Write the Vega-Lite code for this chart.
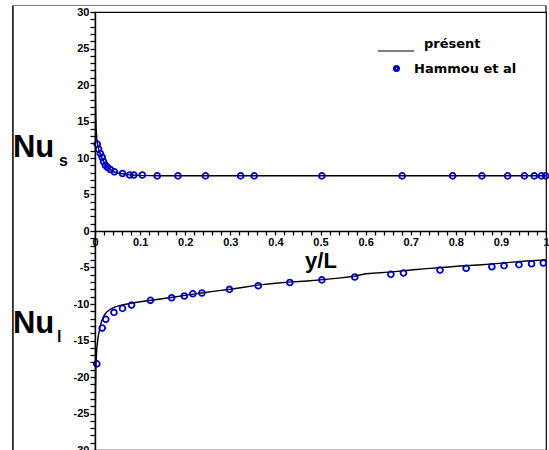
{
  "$schema": "https://vega.github.io/schema/vega-lite/v6.json",
  "width": 451,
  "height": 438,
  "autosize": {"type": "none"},
  "padding": {"left": 95, "top": 12, "right": 3, "bottom": 0},
  "background": "white",
  "config": {
    "view": {"stroke": "black", "strokeWidth": 1.2},
    "axis": {"grid": false}
  },
  "data": {
    "values": [
      {"p": "s", "k": "line", "x": 0, "v": 30},
      {"p": "s", "k": "line", "x": 0.0007, "v": 22},
      {"p": "s", "k": "line", "x": 0.0015, "v": 17},
      {"p": "s", "k": "line", "x": 0.0025, "v": 14},
      {"p": "s", "k": "line", "x": 0.004, "v": 12.6},
      {"p": "s", "k": "line", "x": 0.007, "v": 11.4},
      {"p": "s", "k": "line", "x": 0.011, "v": 10.6},
      {"p": "s", "k": "line", "x": 0.016, "v": 9.9},
      {"p": "s", "k": "line", "x": 0.022, "v": 9.1},
      {"p": "s", "k": "line", "x": 0.03, "v": 8.6},
      {"p": "s", "k": "line", "x": 0.04, "v": 8.15},
      {"p": "s", "k": "line", "x": 0.05, "v": 7.95},
      {"p": "s", "k": "line", "x": 0.065, "v": 7.8},
      {"p": "s", "k": "line", "x": 0.08, "v": 7.68},
      {"p": "s", "k": "line", "x": 0.1, "v": 7.62},
      {"p": "s", "k": "line", "x": 0.14, "v": 7.57},
      {"p": "s", "k": "line", "x": 0.3, "v": 7.56},
      {"p": "s", "k": "line", "x": 0.6, "v": 7.56},
      {"p": "s", "k": "line", "x": 1, "v": 7.56},
      {"p": "s", "k": "pt", "x": 0.005, "v": 11.9},
      {"p": "s", "k": "pt", "x": 0.008, "v": 11.2},
      {"p": "s", "k": "pt", "x": 0.012, "v": 10.6},
      {"p": "s", "k": "pt", "x": 0.016, "v": 10.1},
      {"p": "s", "k": "pt", "x": 0.019, "v": 9.5},
      {"p": "s", "k": "pt", "x": 0.023, "v": 9.0},
      {"p": "s", "k": "pt", "x": 0.028, "v": 8.7},
      {"p": "s", "k": "pt", "x": 0.034, "v": 8.42},
      {"p": "s", "k": "pt", "x": 0.043, "v": 8.1},
      {"p": "s", "k": "pt", "x": 0.061, "v": 7.87},
      {"p": "s", "k": "pt", "x": 0.077, "v": 7.67},
      {"p": "s", "k": "pt", "x": 0.086, "v": 7.67},
      {"p": "s", "k": "pt", "x": 0.105, "v": 7.67},
      {"p": "s", "k": "pt", "x": 0.138, "v": 7.55},
      {"p": "s", "k": "pt", "x": 0.184, "v": 7.55},
      {"p": "s", "k": "pt", "x": 0.245, "v": 7.55},
      {"p": "s", "k": "pt", "x": 0.323, "v": 7.55},
      {"p": "s", "k": "pt", "x": 0.353, "v": 7.55},
      {"p": "s", "k": "pt", "x": 0.503, "v": 7.55},
      {"p": "s", "k": "pt", "x": 0.681, "v": 7.55},
      {"p": "s", "k": "pt", "x": 0.793, "v": 7.55},
      {"p": "s", "k": "pt", "x": 0.858, "v": 7.55},
      {"p": "s", "k": "pt", "x": 0.915, "v": 7.55},
      {"p": "s", "k": "pt", "x": 0.952, "v": 7.55},
      {"p": "s", "k": "pt", "x": 0.974, "v": 7.55},
      {"p": "s", "k": "pt", "x": 0.99, "v": 7.55},
      {"p": "s", "k": "pt", "x": 0.999, "v": 7.55},
      {"p": "l", "k": "line", "x": 0, "v": -30},
      {"p": "l", "k": "line", "x": 0.0008, "v": -24},
      {"p": "l", "k": "line", "x": 0.002, "v": -18.5},
      {"p": "l", "k": "line", "x": 0.004, "v": -16},
      {"p": "l", "k": "line", "x": 0.007, "v": -14.5},
      {"p": "l", "k": "line", "x": 0.011, "v": -13.2},
      {"p": "l", "k": "line", "x": 0.015, "v": -12.3},
      {"p": "l", "k": "line", "x": 0.02, "v": -11.6},
      {"p": "l", "k": "line", "x": 0.026, "v": -11.1},
      {"p": "l", "k": "line", "x": 0.033, "v": -10.75},
      {"p": "l", "k": "line", "x": 0.041, "v": -10.5},
      {"p": "l", "k": "line", "x": 0.05, "v": -10.3},
      {"p": "l", "k": "line", "x": 0.063, "v": -10.1},
      {"p": "l", "k": "line", "x": 0.08, "v": -9.9},
      {"p": "l", "k": "line", "x": 0.1, "v": -9.7},
      {"p": "l", "k": "line", "x": 0.137, "v": -9.38},
      {"p": "l", "k": "line", "x": 0.18, "v": -9.0},
      {"p": "l", "k": "line", "x": 0.21, "v": -8.72},
      {"p": "l", "k": "line", "x": 0.24, "v": -8.45},
      {"p": "l", "k": "line", "x": 0.27, "v": -8.2},
      {"p": "l", "k": "line", "x": 0.3, "v": -7.98},
      {"p": "l", "k": "line", "x": 0.33, "v": -7.7},
      {"p": "l", "k": "line", "x": 0.36, "v": -7.42},
      {"p": "l", "k": "line", "x": 0.4, "v": -7.15},
      {"p": "l", "k": "line", "x": 0.43, "v": -7.0},
      {"p": "l", "k": "line", "x": 0.47, "v": -6.85},
      {"p": "l", "k": "line", "x": 0.5, "v": -6.7},
      {"p": "l", "k": "line", "x": 0.54, "v": -6.45},
      {"p": "l", "k": "line", "x": 0.576, "v": -6.2},
      {"p": "l", "k": "line", "x": 0.6, "v": -5.85},
      {"p": "l", "k": "line", "x": 0.66, "v": -5.6},
      {"p": "l", "k": "line", "x": 0.7, "v": -5.35},
      {"p": "l", "k": "line", "x": 0.735, "v": -5.15},
      {"p": "l", "k": "line", "x": 0.77, "v": -5.0},
      {"p": "l", "k": "line", "x": 0.81, "v": -4.8},
      {"p": "l", "k": "line", "x": 0.85, "v": -4.65},
      {"p": "l", "k": "line", "x": 0.883, "v": -4.5},
      {"p": "l", "k": "line", "x": 0.92, "v": -4.3},
      {"p": "l", "k": "line", "x": 0.957, "v": -4.1},
      {"p": "l", "k": "line", "x": 1, "v": -3.95},
      {"p": "l", "k": "pt", "x": 0.004, "v": -18.2},
      {"p": "l", "k": "pt", "x": 0.016, "v": -13.3},
      {"p": "l", "k": "pt", "x": 0.024, "v": -12.1},
      {"p": "l", "k": "pt", "x": 0.042, "v": -11.15},
      {"p": "l", "k": "pt", "x": 0.061, "v": -10.6},
      {"p": "l", "k": "pt", "x": 0.081, "v": -10.15},
      {"p": "l", "k": "pt", "x": 0.123, "v": -9.5},
      {"p": "l", "k": "pt", "x": 0.17, "v": -9.15},
      {"p": "l", "k": "pt", "x": 0.198, "v": -8.9},
      {"p": "l", "k": "pt", "x": 0.217, "v": -8.6},
      {"p": "l", "k": "pt", "x": 0.237, "v": -8.5},
      {"p": "l", "k": "pt", "x": 0.298, "v": -8.0},
      {"p": "l", "k": "pt", "x": 0.362, "v": -7.5},
      {"p": "l", "k": "pt", "x": 0.432, "v": -7.05},
      {"p": "l", "k": "pt", "x": 0.503, "v": -6.7},
      {"p": "l", "k": "pt", "x": 0.576, "v": -6.3},
      {"p": "l", "k": "pt", "x": 0.656, "v": -5.94},
      {"p": "l", "k": "pt", "x": 0.684, "v": -5.75},
      {"p": "l", "k": "pt", "x": 0.765, "v": -5.34},
      {"p": "l", "k": "pt", "x": 0.823, "v": -5.11},
      {"p": "l", "k": "pt", "x": 0.88, "v": -4.89},
      {"p": "l", "k": "pt", "x": 0.907, "v": -4.75},
      {"p": "l", "k": "pt", "x": 0.94, "v": -4.61},
      {"p": "l", "k": "pt", "x": 0.968, "v": -4.48},
      {"p": "l", "k": "pt", "x": 0.994, "v": -4.38}
    ]
  },
  "layer": [
    {
      "transform": [{"filter": "datum.k == 'line'"}],
      "mark": {"type": "line", "strokeWidth": 1.4, "clip": true},
      "encoding": {
        "x": {
          "field": "x", "type": "quantitative",
          "scale": {"domain": [0, 1], "nice": false, "zero": false},
          "axis": {
            "orient": "bottom", "offset": -219, "tickCount": 200,
            "values": [0,0.02,0.04,0.06,0.08,0.1,0.12,0.14,0.16,0.18,0.2,0.22,0.24,0.26,0.28,0.3,0.32,0.34,0.36,0.38,0.4,0.42,0.44,0.46,0.48,0.5,0.52,0.54,0.56,0.58,0.6,0.62,0.64,0.66,0.68,0.7,0.72,0.74,0.76,0.78,0.8,0.82,0.84,0.86,0.88,0.9,0.92,0.94,0.96,0.98,1],
            "labelExpr": "abs(datum.value*10 - round(datum.value*10)) < 0.001 ? (datum.value == 0 ? '0' : (datum.value == 1 ? '1' : format(datum.value, '.1f'))) : ''",
            "labelOverlap": false, "labelFlush": false,
            "tickSize": 4, "tickWidth": 1.3, "tickColor": "black",
            "domainColor": "black", "domainWidth": 1.4,
            "labelFont": "Liberation Sans", "labelFontWeight": "bold", "labelFontSize": 11, "labelColor": "black", "labelPadding": 1,
            "title": "y/L", "titleFont": "Liberation Sans", "titleFontSize": 22, "titleFontWeight": "bold", "titleColor": "black", "titlePadding": 3,
            "zindex": 1
          }
        },
        "y": {
          "field": "v", "type": "quantitative",
          "scale": {"domain": [-30, 30], "nice": false, "zero": false},
          "axis": {
            "tickCount": 200,
            "values": [-30,-29,-28,-27,-26,-25,-24,-23,-22,-21,-20,-19,-18,-17,-16,-15,-14,-13,-12,-11,-10,-9,-8,-7,-6,-5,-4,-3,-2,-1,0,1,2,3,4,5,6,7,8,9,10,11,12,13,14,15,16,17,18,19,20,21,22,23,24,25,26,27,28,29,30],
            "labelExpr": "datum.value % 5 == 0 ? '' + datum.value : ''",
            "labelOverlap": false, "labelFlush": false,
            "tickSize": 5, "tickWidth": 1.3, "tickColor": "black",
            "domainColor": "black", "domainWidth": 1.4,
            "labelFont": "Liberation Sans", "labelFontWeight": "bold", "labelFontSize": 11, "labelColor": "black", "labelPadding": 1,
            "title": null, "zindex": 1
          }
        },
        "detail": {"field": "p"},
        "color": {
          "datum": "présent",
          "scale": {"range": ["black"]},
          "legend": {
            "orient": "none", "legendX": 282, "legendY": 20, "title": null,
            "symbolType": "stroke", "symbolSize": 1296, "symbolStrokeWidth": 1.2, "symbolStrokeColor": "black",
            "labelFont": "DejaVu Sans", "labelFontWeight": "bold", "labelFontSize": 13, "labelColor": "black", "labelOffset": 9, "padding": 0,
            "encode": {"labels": {"update": {"dy": {"value": -7}}}}
          }
        }
      }
    },
    {
      "transform": [{"filter": "datum.k == 'pt'"}],
      "mark": {"type": "point", "filled": false, "strokeWidth": 1.8, "size": 34, "opacity": 1, "clip": false},
      "encoding": {
        "x": {"field": "x", "type": "quantitative"},
        "y": {"field": "v", "type": "quantitative"},
        "stroke": {
          "datum": "Hammou et al",
          "scale": {"range": ["#0000c8"]},
          "legend": {
            "orient": "none", "legendX": 295, "legendY": 50, "title": null,
            "symbolType": "circle", "symbolSize": 9, "symbolStrokeWidth": 4, "symbolStrokeColor": "#0000c8", "symbolOpacity": 1,
            "labelFont": "DejaVu Sans", "labelFontWeight": "bold", "labelFontSize": 13, "labelColor": "black", "labelOffset": 11, "padding": 0
          }
        }
      }
    },
    {
      "data": {"values": [{}]},
      "mark": {"type": "rule", "color": "black", "strokeWidth": 1.5, "clip": false},
      "encoding": {"x": {"datum": -0.182}, "y": {"datum": 30.9}, "y2": {"datum": -31}}
    },
    {
      "data": {"values": [{}]},
      "mark": {"type": "rule", "color": "black", "strokeWidth": 1.2, "clip": false},
      "encoding": {"x": {"datum": 1}, "y": {"datum": 30.9}, "y2": {"datum": 30}}
    },
    {
      "data": {"values": [{}]},
      "mark": {"type": "rule", "color": "#777777", "strokeWidth": 1, "clip": false},
      "encoding": {"x": {"datum": -0.182}, "x2": {"datum": 1}, "y": {"datum": 30.9}}
    },
    {
      "data": {"values": [{}]},
      "mark": {"type": "text", "text": "Nu", "font": "Liberation Sans", "fontSize": 31, "fontWeight": "bold", "align": "left", "baseline": "alphabetic", "color": "black", "clip": false},
      "encoding": {"x": {"datum": -0.182}, "y": {"datum": 10.1}}
    },
    {
      "data": {"values": [{}]},
      "mark": {"type": "text", "text": "s", "font": "Liberation Sans", "fontSize": 16, "fontWeight": "bold", "align": "left", "baseline": "alphabetic", "color": "black", "clip": false},
      "encoding": {"x": {"datum": -0.08}, "y": {"datum": 8.9}}
    },
    {
      "data": {"values": [{}]},
      "mark": {"type": "text", "text": "Nu", "font": "Liberation Sans", "fontSize": 31, "fontWeight": "bold", "align": "left", "baseline": "alphabetic", "color": "black", "clip": false},
      "encoding": {"x": {"datum": -0.182}, "y": {"datum": -13.97}}
    },
    {
      "data": {"values": [{}]},
      "mark": {"type": "text", "text": "l", "font": "Liberation Sans", "fontSize": 16, "fontWeight": "bold", "align": "left", "baseline": "alphabetic", "color": "black", "clip": false},
      "encoding": {"x": {"datum": -0.084}, "y": {"datum": -15.2}}
    }
  ]
}
